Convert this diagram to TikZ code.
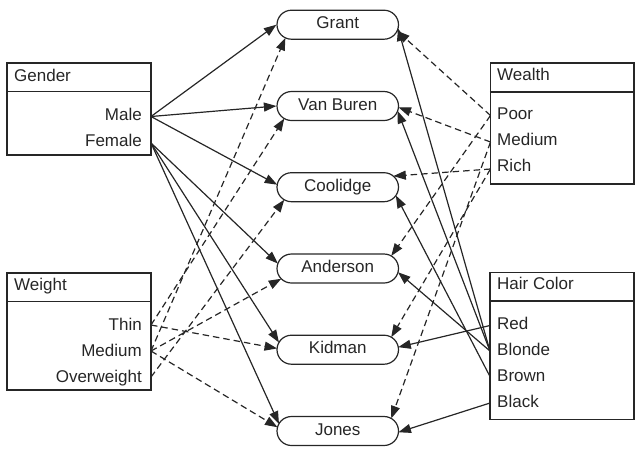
\documentclass[tikz,border=0pt]{standalone}
\usepackage{fontspec}
\setmainfont{Liberation Sans}
\usetikzlibrary{shapes.misc,arrows.meta,calc}
\begin{document}
\begin{tikzpicture}[x=1pt,y=-1pt,
  every node/.style={font=\fontsize{17}{20}\selectfont, text=black!85},
  box/.style={draw=black!85, line width=1.3pt, rectangle, inner sep=0pt},
  sep/.style={draw=black!85, line width=1.3pt},
  person/.style={draw=black!85, line width=1.2pt, rounded rectangle, minimum width=121.5pt, minimum height=29pt, inner sep=0pt, text height=12pt, text depth=4pt},
  lbl/.style={inner sep=0pt},
  link/.style={line width=1.2pt, draw=black!85, -{Triangle[length=12.5pt,width=9pt]}},
  dlink/.style={link, dash pattern=on 6.5pt off 4pt},
]
\useasboundingbox (0,0) rectangle (639,448);

% attribute boxes
\node[box, minimum width=144pt, minimum height=92pt] (gbox) at (79,109) {};
\draw[sep] ($(gbox.north west)+(0,29)$) -- ($(gbox.north east)+(0,29)$);
\node[lbl, anchor=base west] (tgender) at (14,81.5) {Gender};
\node[lbl, anchor=base east] (tmale) at (142,120) {Male};
\node[lbl, anchor=base east] (tfemale) at (142,146.5) {Female};

\node[box, minimum width=144pt, minimum height=117pt] (wbox) at (79,331.5) {};
\draw[sep] ($(wbox.north west)+(0,29)$) -- ($(wbox.north east)+(0,29)$);
\node[lbl, anchor=base west] (tweight) at (14,290) {Weight};
\node[lbl, anchor=base east] (tthin) at (142,330) {Thin};
\node[lbl, anchor=base east] (twmed) at (142,356.5) {Medium};
\node[lbl, anchor=base east] (tover) at (142,382.5) {Overweight};

\node[box, minimum width=143.5pt, minimum height=121pt] (ebox) at (562.25,123.5) {};
\draw[sep] ($(ebox.north west)+(0,29.5)$) -- ($(ebox.north east)+(0,29.5)$);
\node[lbl, anchor=base west] (twealth) at (497,80.5) {Wealth};
\node[lbl, anchor=base west] (tpoor) at (497,119.5) {Poor};
\node[lbl, anchor=base west] (temed) at (497,145.7) {Medium};
\node[lbl, anchor=base west] (trich) at (497,171.7) {Rich};

\node[box, minimum width=144pt, minimum height=146.5pt] (hbox) at (562,345.9) {};
\draw[sep] ($(hbox.north west)+(0,29)$) -- ($(hbox.north east)+(0,29)$);
\node[lbl, anchor=base west] (thair) at (497,289.3) {Hair Color};
\node[lbl, anchor=base west] (tred) at (497,329) {Red};
\node[lbl, anchor=base west] (tblonde) at (497,355) {Blonde};
\node[lbl, anchor=base west] (tbrown) at (497,381) {Brown};
\node[lbl, anchor=base west] (tblack) at (497,407) {Black};

% ports
\coordinate (male) at (151,116.5);
\coordinate (female) at (151,143);
\coordinate (thin) at (151,325);
\coordinate (wmed) at (151,351);
\coordinate (over) at (151,377);
\coordinate (poor) at (490.5,115.5);
\coordinate (emed) at (490.5,142);
\coordinate (rich) at (490.5,169);
\coordinate (hred) at (490,325.5);
\coordinate (hblonde) at (490,351);
\coordinate (hbrown) at (490,376.5);
\coordinate (hblack) at (490,403);

% persons
\node[person] (grant) at (337.75,24.7) {Grant};
\node[person] (vanburen) at (337.75,106) {Van Buren};
\node[person] (coolidge) at (337.75,187.2) {Coolidge};
\node[person] (anderson) at (337.75,268.5) {Anderson};
\node[person] (kidman) at (337.75,349.7) {Kidman};
\node[person] (jones) at (337.75,431) {Jones};

% gender
\draw[link] (male) -- (grant.west);
\draw[link] (male) -- (vanburen.west);
\draw[link] (male) -- ($(coolidge.center)+(-46.25,0)+(170:14.5pt)$);
\draw[link] (female) -- ($(anderson.center)+(-46.25,0)+(160:14.5pt)$);
\draw[link] (female) -- ($(kidman.center)+(-46.25,0)+(150:14.5pt)$);
\draw[link] (female) -- ($(jones.center)+(-46.25,0)+(150:14.5pt)$);

% weight
\draw[dlink] (wmed) -- ($(grant.center)+(-46.25,0)+(245:14.5pt)$);
\draw[dlink] (thin) -- ($(vanburen.center)+(-46.25,0)+(240:14.5pt)$);
\draw[dlink] (over) -- ($(coolidge.center)+(-46.25,0)+(240:14.5pt)$);
\draw[dlink] (wmed) -- ($(anderson.center)+(-46.25,0)+(225:14.5pt)$);
\draw[dlink] (thin) -- ($(kidman.center)+(-46.25,0)+(175:14.5pt)$);
\draw[dlink] (wmed) -- ($(jones.center)+(-46.25,0)+(165:14.5pt)$);

% wealth
\draw[dlink] (poor) -- ($(grant.center)+(46.25,0)+(-25:14.5pt)$);
\draw[dlink] (poor) -- ($(anderson.center)+(46.25,0)+(60:14.5pt)$);
\draw[dlink] (emed) -- ($(vanburen.center)+(46.25,0)+(-5:14.5pt)$);
\draw[dlink] (emed) -- ($(jones.center)+(46.25,0)+(60:14.5pt)$);
\draw[dlink] (rich) -- ($(coolidge.center)+(46.25,0)+(50:14.5pt)$);
\draw[dlink] (rich) -- ($(kidman.center)+(46.25,0)+(60:14.5pt)$);

% hair color
\draw[link] (hred) -- ($(kidman.center)+(46.25,0)+(10:14.5pt)$);
\draw[link] (hblonde) -- ($(grant.center)+(46.25,0)+(-15:14.5pt)$);
\draw[link] (hblonde) -- ($(vanburen.center)+(46.25,0)+(-20:14.5pt)$);
\draw[link] (hblonde) -- ($(anderson.center)+(46.25,0)+(-15:14.5pt)$);
\draw[link] (hbrown) -- ($(coolidge.center)+(46.25,0)+(-35:14.5pt)$);
\draw[link] (hblack) -- ($(jones.center)+(46.25,0)+(-5:14.5pt)$);
\end{tikzpicture}
\end{document}
